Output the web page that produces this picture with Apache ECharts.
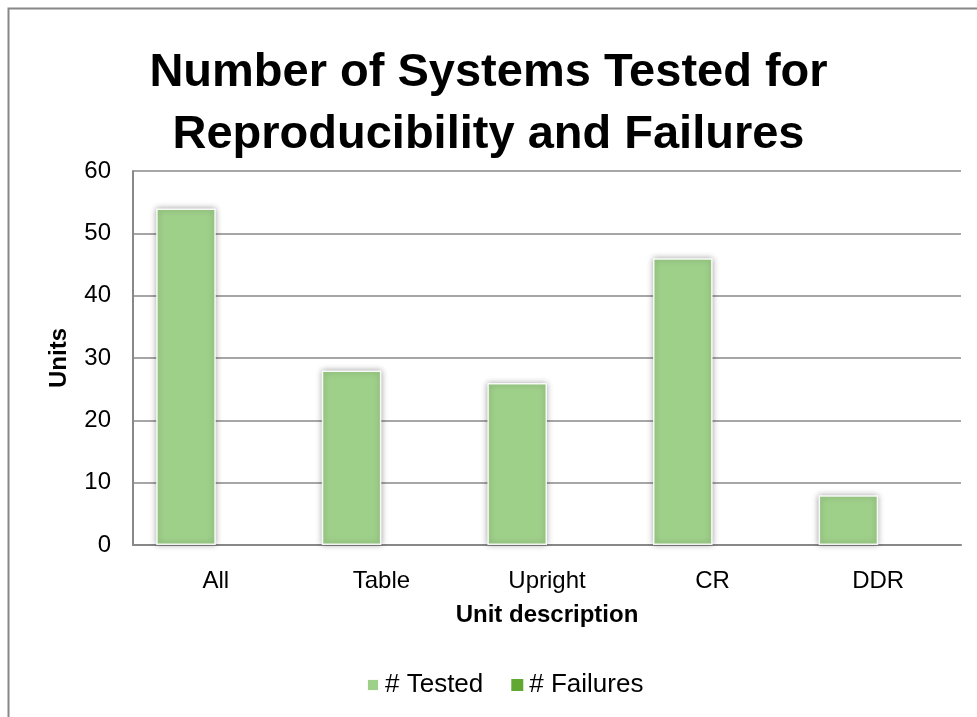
<!DOCTYPE html>
<html>
<head>
<meta charset="utf-8">
<script src="https://cdn.jsdelivr.net/npm/echarts@6/dist/echarts.min.js"></script>
<style>
  html, body { margin: 0; padding: 0; background: #fff; }
  #chart { width: 977px; height: 717px; }
</style>
</head>
<body>
<div id="chart"></div>
<script>
// chart data
const categories = ["All", "Table", "Upright", "CR", "DDR"];
const tested = [54, 28, 26, 46, 8];
const failures = [0, 0, 0, 0, 0];
const yTicks = { min: 0, max: 60, interval: 10 };

const font = "Liberation Sans, Arial, sans-serif";
const gray = "#888888";

const chart = echarts.init(document.getElementById("chart"));
chart.setOption({
  backgroundColor: "#fff",
  animation: false,
  title: {
    text: "Number of Systems Tested for\nReproducibility and Failures",
    left: "center",
    top: 37,
    textStyle: {
      fontFamily: font,
      fontSize: 47,
      fontWeight: "bold",
      color: "#000",
      lineHeight: 62
    }
  },
  // outer chart border (cropped at right/bottom)
  graphic: [{
    type: "rect",
    shape: { x: 8.5, y: 8.5, width: 1200, height: 1200 },
    style: { fill: "none", stroke: gray, lineWidth: 2 },
    silent: true
  }],
  grid: { left: 133, right: 16, top: 171, bottom: 172 },
  legend: {
    top: 667,
    left: 361,
    itemWidth: 12,
    itemHeight: 12,
    itemGap: 28,
    icon: "rect",
    textStyle: { fontFamily: font, fontSize: 26, color: "#000", padding: [0, 0, 0, 1] },
    data: ["# Tested", "# Failures"]
  },
  xAxis: {
    type: "category",
    data: categories,
    name: "Unit description",
    nameLocation: "middle",
    nameGap: 58,
    nameTextStyle: { fontFamily: font, fontSize: 24, fontWeight: "bold", color: "#000" },
    axisLine: { lineStyle: { color: gray, width: 2 } },
    axisTick: { show: false },
    axisLabel: { fontFamily: font, fontSize: 24, color: "#000", margin: 24 }
  },
  yAxis: {
    type: "value",
    min: yTicks.min,
    max: yTicks.max,
    interval: yTicks.interval,
    name: "Units",
    nameLocation: "middle",
    nameGap: 62,
    nameTextStyle: { fontFamily: font, fontSize: 24, fontWeight: "bold", color: "#000" },
    axisLine: { show: true, lineStyle: { color: gray, width: 2 } },
    axisTick: { show: false },
    axisLabel: { fontFamily: font, fontSize: 24, color: "#000", margin: 22 },
    splitLine: { lineStyle: { color: gray, width: 1.5 } }
  },
  series: [
    {
      name: "# Tested",
      type: "bar",
      data: tested,
      barGap: "0%",
      barCategoryGap: "28%",
      itemStyle: {
        color: "#9fd08a",
        borderColor: "rgba(255,255,255,0.9)",
        borderWidth: 1.5,
        shadowBlur: 6,
        shadowColor: "rgba(0,0,0,0.35)"
      }
    },
    {
      name: "# Failures",
      type: "bar",
      data: failures,
      itemStyle: { color: "#60a832" }
    }
  ]
});
</script>
</body>
</html>
